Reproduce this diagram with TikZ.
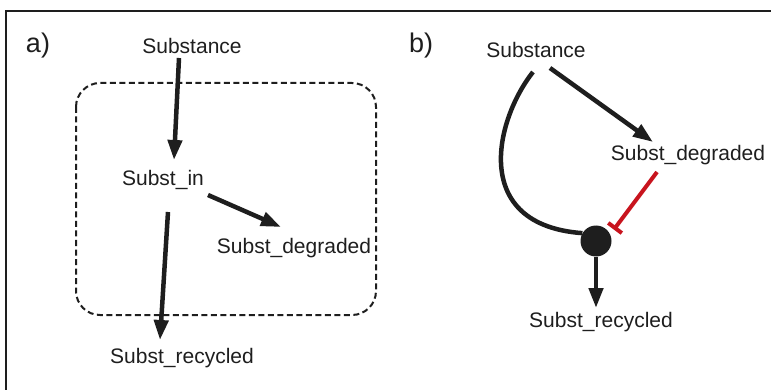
\documentclass[tikz,border=0pt]{standalone}
\usepackage{fontspec}
\setmainfont{Liberation Sans}
\usetikzlibrary{arrows.meta}
\definecolor{inhred}{RGB}{200,20,30}
\definecolor{ink}{RGB}{30,30,30}
\begin{document}
\begin{tikzpicture}[x=1pt,y=-1pt,
  lbl/.style={font=\fontsize{21}{24}\selectfont, text=ink, inner sep=0pt},
  panel/.style={font=\fontsize{27}{30}\selectfont, text=ink, inner sep=0pt},
  flow/.style={line width=4.5pt, draw=ink, -{Triangle[length=20pt,width=14pt]}},
  inhib/.style={line width=4pt, draw=inhred, -{Bar[width=17pt,line width=4pt]}, shorten >=6pt},
  box/.style={draw=ink, line width=2pt, rounded corners=24pt, dash pattern=on 6pt off 3.5pt}]
\useasboundingbox (0,0) rectangle (771,390);
% frame
\draw[line width=1.5pt, ink] (6,390) -- (6,11) -- (771,11);
% panel a
\node[panel] (pa) at (38,46) {a)};
\node[lbl] (sa) at (192,46) {Substance};
\node[lbl] (ina) at (163,180) {Subst\_in};
\node[lbl] (dga) at (294,248) {Subst\_degraded};
\node[lbl] (rca) at (182,358) {Subst\_recycled};
\draw[box] (76,83) rectangle (376,315);
\coordinate (a1) at (179,58);
\coordinate (a2) at (174,160);
\draw[flow] (a1) -- (a2);
\coordinate (a3) at (208,195);
\coordinate (a4) at (281,227);
\draw[flow] (a3) -- (a4);
\coordinate (a5) at (168,212);
\coordinate (a6) at (160,340);
\draw[flow] (a5) -- (a6);
% panel b
\node[panel] (pb) at (421,46) {b)};
\node[lbl] (sb) at (536,50) {Substance};
\node[lbl] (dgb) at (688,155) {Subst\_degraded};
\node[lbl] (rcb) at (601,322) {Subst\_recycled};
\node[circle, fill=ink, minimum size=31pt, inner sep=0pt] (dot) at (596,241) {};
\coordinate (b1) at (550,68);
\coordinate (b2) at (653,142);
\draw[flow] (b1) -- (b2);
\coordinate (b3) at (533,72);
\draw[line width=4.5pt, ink] (b3) .. controls (495,120) and (470,225) .. (dot.150);
\coordinate (b4) at (657,172);
\draw[inhib] (b4) -- (dot.25);
\coordinate (b5) at (596,308);
\draw[flow] (dot.south) -- (b5);
\end{tikzpicture}
\end{document}
